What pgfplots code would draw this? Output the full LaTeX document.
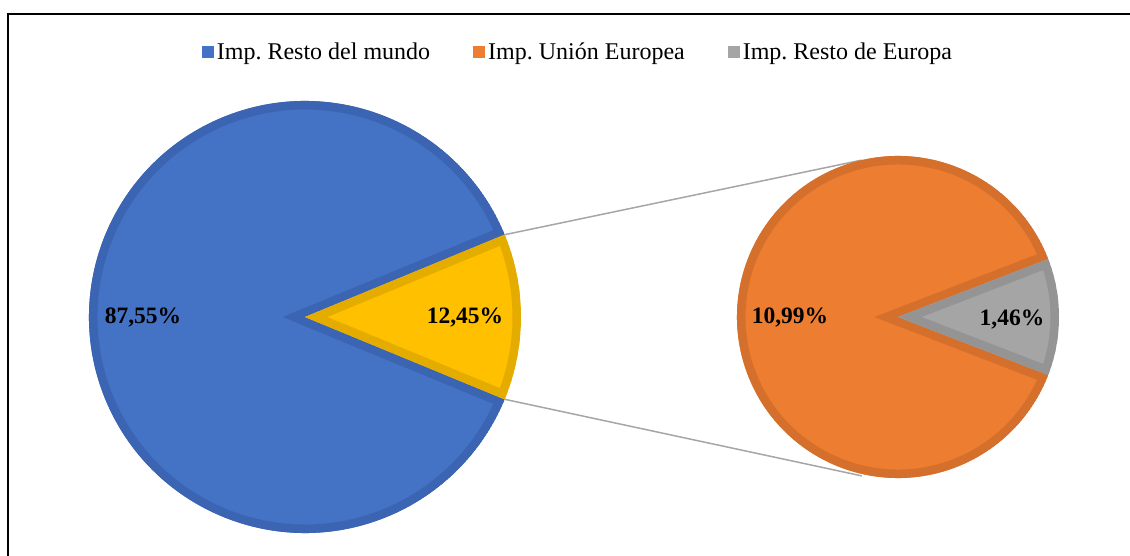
\documentclass[border=0pt]{standalone}
\usepackage{fontspec}
\setmainfont{Liberation Serif}
\usepackage{pgfplots}
\pgfplotsset{compat=1.18}

\definecolor{cBlue}{HTML}{4472C4}
\definecolor{cBlueD}{HTML}{3B65B2}
\definecolor{cYel}{HTML}{FFC000}
\definecolor{cYelD}{HTML}{E5AC00}
\definecolor{cOra}{HTML}{ED7D31}
\definecolor{cOraD}{HTML}{D5702C}
\definecolor{cGry}{HTML}{A5A5A5}
\definecolor{cGryD}{HTML}{949494}
\definecolor{cLine}{HTML}{A6A6A6}

% shares of imports (%)
\def\resMundo{87.55}
\def\ue{10.99}
\def\resEuropa{1.46}
\pgfmathsetmacro{\aY}{(100-\resMundo)*3.6/2}
\pgfmathsetmacro{\aG}{\resEuropa/(\ue+\resEuropa)*180}

% slice with an inner border: cx, cy, r, start, end, fill, border
\newcommand{\slice}[7]{%
  \begin{scope}
    \clip (axis cs:#1,#2) -- ++(#4:#3pt) arc[start angle=#4,end angle=#5,radius=#3pt] -- cycle;
    \filldraw[fill=#6,draw=#7,line width=17pt,line join=miter,miter limit=30]
      (axis cs:#1,#2) -- ++(#4:#3pt) arc[start angle=#4,end angle=#5,radius=#3pt] -- cycle;
  \end{scope}}

\newcommand{\lblfont}{\bfseries\fontsize{23.5}{28}\selectfont}
\frenchspacing

\begin{document}
\begin{tikzpicture}
\begin{axis}[
  scale only axis,
  width=1130pt, height=556pt,
  xmin=0, xmax=1130, ymin=0, ymax=556,
  hide axis, clip=false,
  legend columns=3,
  legend image code/.code={\fill[#1] (0pt,-6pt) rectangle (12pt,6pt);},
  legend style={at={(axis cs:578.5,504)}, anchor=center, draw=none, fill=none,
    font=\fontsize{24}{28}\selectfont,
    nodes={inner sep=3pt},
    /tikz/every even column/.append style={column sep=40pt}},
]
\coordinate (bl) at (rel axis cs:0,0);
\coordinate (tr) at (rel axis cs:1,1);

\addlegendimage{fill=cBlue, draw=none}
\addlegendentry{Imp. Resto del mundo}
\addlegendimage{fill=cOra, draw=none}
\addlegendentry{Imp. Unión Europea}
\addlegendimage{fill=cGry, draw=none}
\addlegendentry{Imp. Resto de Europa}

% connector lines
\addplot[cLine, line width=1.5pt] coordinates {(504.7,321.3) (861.8,395.9)};
\addplot[cLine, line width=1.5pt] coordinates {(504.7,156.7) (861.8,80.1)};

% main pie
\slice{305}{239}{216}{\aY}{360-\aY}{cBlue}{cBlueD}
\slice{305}{239}{216}{-\aY}{\aY}{cYel}{cYelD}
% second pie
\slice{898}{239}{161}{\aG}{360-\aG}{cOra}{cOraD}
\slice{898}{239}{161}{-\aG}{\aG}{cGry}{cGryD}

\node[font=\lblfont] at (axis cs:143,238) {87,55\%};
\node[font=\lblfont] at (axis cs:465,238) {12,45\%};
\node[font=\lblfont] at (axis cs:790,238) {10,99\%};
\node[font=\lblfont] at (axis cs:1012,236) {1,46\%};

% chart frame
\draw[line width=2pt] (axis cs:7.5,0) -- (axis cs:7.5,542) -- (axis cs:1130,542);
\end{axis}
\pgfresetboundingbox
\useasboundingbox (bl) rectangle (tr);
\end{tikzpicture}
\end{document}
